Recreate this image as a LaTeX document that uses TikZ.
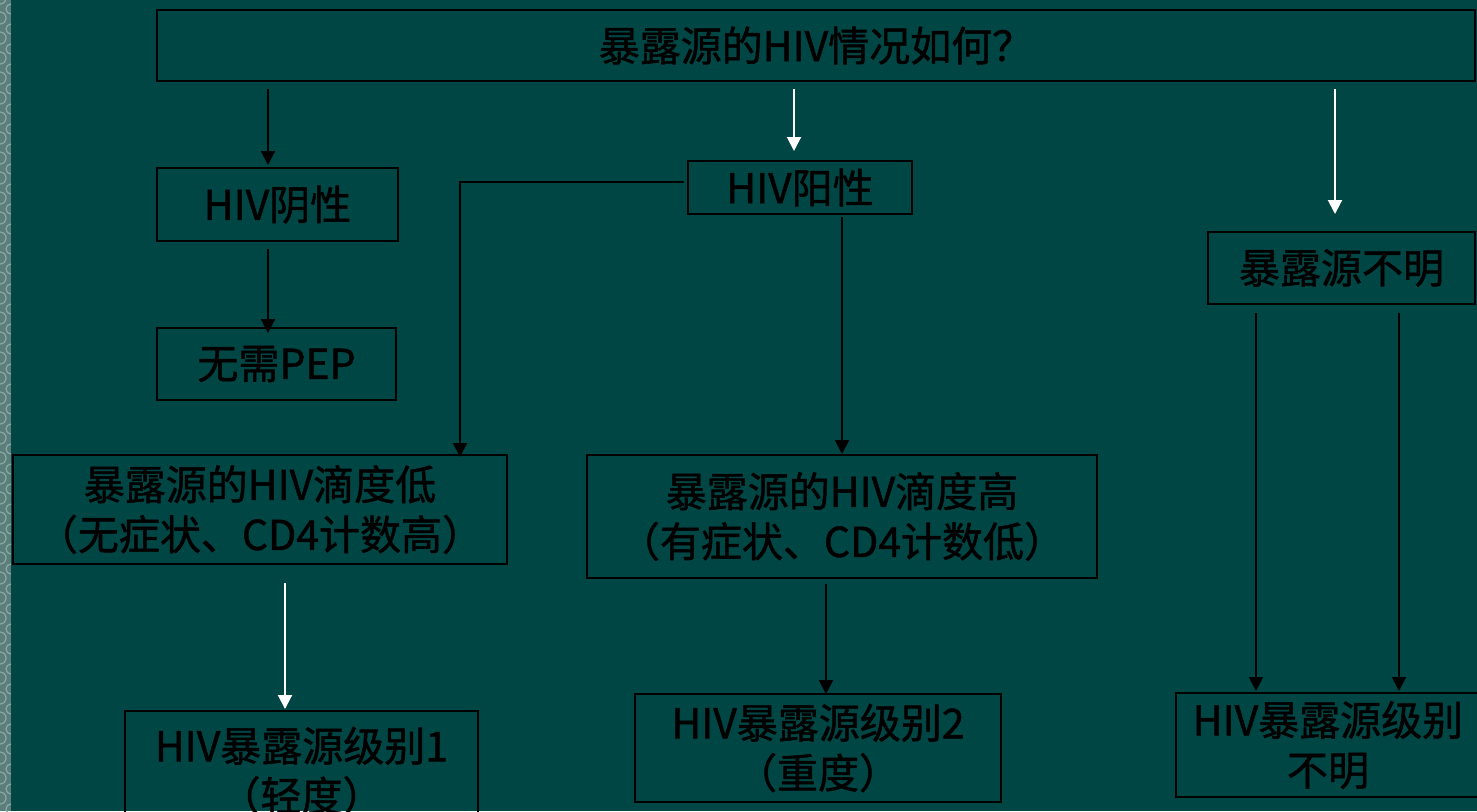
\documentclass[tikz,border=0pt]{standalone}
\usepackage{fontspec}
\setmainfont[AutoFakeBold=1.2]{Noto Sans CJK SC}
\usetikzlibrary{arrows.meta}
\definecolor{bgteal}{RGB}{0,70,68}
\definecolor{strip}{RGB}{92,126,123}
\definecolor{stripl}{RGB}{140,168,165}
\tikzset{
  box/.style={draw=black, line width=1pt, inner sep=0pt, align=center,
    font=\fontsize{20.5}{25}\selectfont\bfseries, text=black},
  blk/.style={draw=black, line width=1pt, -{Triangle[width=7pt,length=7pt]}},
  wht/.style={draw=white, line width=1pt, -{Triangle[width=7pt,length=7pt]}},
  plain/.style={draw=black, line width=1pt}
}
\begin{document}
\begin{tikzpicture}[x=0.5pt,y=-0.5pt]
\useasboundingbox (0,0) rectangle (1477,811);
\clip (0,0) rectangle (1477,811);
\fill[bgteal] (0,0) rectangle (1477,811);
\fill[strip] (0,0) rectangle (11,811);
\foreach \k in {0,...,40}{
  \draw[stripl, line width=0.6pt] (0,\k*20+4) arc[start angle=90, end angle=-90, radius=6];
  \draw[stripl, line width=0.6pt] (11,\k*20+14) arc[start angle=90, end angle=270, radius=5];
}
% nodes
\node[box, minimum width=659pt, minimum height=35.5pt] (top) at (816,45.5) {暴露源的HIV情况如何？};
\node[box, minimum width=120.5pt, minimum height=36.5pt] (neg) at (277.5,204.5) {HIV阴性};
\node[box, minimum width=119.5pt, minimum height=36pt] (nopep) at (276.5,364) {无需PEP};
\node[box, minimum width=112pt, minimum height=26.5pt] (pos) at (800,187.5) {HIV阳性};
\node[box, minimum width=133.5pt, minimum height=36pt] (unk) at (1341.5,268) {暴露源不明};
\node[box, minimum width=247pt, minimum height=54.5pt] (low) at (260,509.5) {暴露源的HIV滴度低\\（无症状、CD4计数高）};
\node[box, minimum width=255pt, minimum height=61.5pt] (high) at (842,516.5) {暴露源的HIV滴度高\\（有症状、CD4计数低）};
\node[box, minimum width=176.5pt, minimum height=60pt, anchor=north] (g1) at (301.5,710) {HIV暴露源级别1\\（轻度）};
\node[box, minimum width=183pt, minimum height=54pt] (g2) at (818,748) {HIV暴露源级别2\\（重度）};
\node[box, minimum width=152pt, minimum height=52pt] (g3) at (1328,745) {HIV暴露源级别\\不明};
% connectors
\draw[blk, shorten <=3.5pt, shorten >=1pt] (top.south -| 268,0) -- (neg.north -| 268,0);
\draw[wht, shorten <=3.5pt, shorten >=4.5pt] (top.south -| 794,0) -- (pos.north -| 794,0);
\draw[wht, shorten <=3.5pt, shorten >=8.5pt] (top.south -| 1335,0) -- (unk.north -| 1335,0);
\draw[blk, shorten <=3.5pt, shorten >=-3pt] (neg.south -| 268,0) -- (nopep.north -| 268,0);
\draw[blk, shorten <=1.5pt, shorten >=-1.5pt] ([yshift=2.75pt]pos.west) -| (low.north -| 460,0);
\draw[blk, shorten <=1pt] (pos.south -| 842,0) -- (high.north -| 842,0);
\draw[wht, shorten <=9pt, shorten >=0.5pt] (low.south -| 285,0) -- (g1.north -| 285,0);
\draw[blk, shorten <=2.5pt, shorten >=-0.5pt] (high.south -| 826,0) -- (g2.north -| 826,0);
\draw[blk, shorten <=4pt, shorten >=0.5pt] (unk.south -| 1256,0) -- (g3.north -| 1256,0);
\draw[blk, shorten <=4pt, shorten >=0.5pt] (unk.south -| 1399,0) -- (g3.north -| 1399,0);
\end{tikzpicture}
\end{document}
